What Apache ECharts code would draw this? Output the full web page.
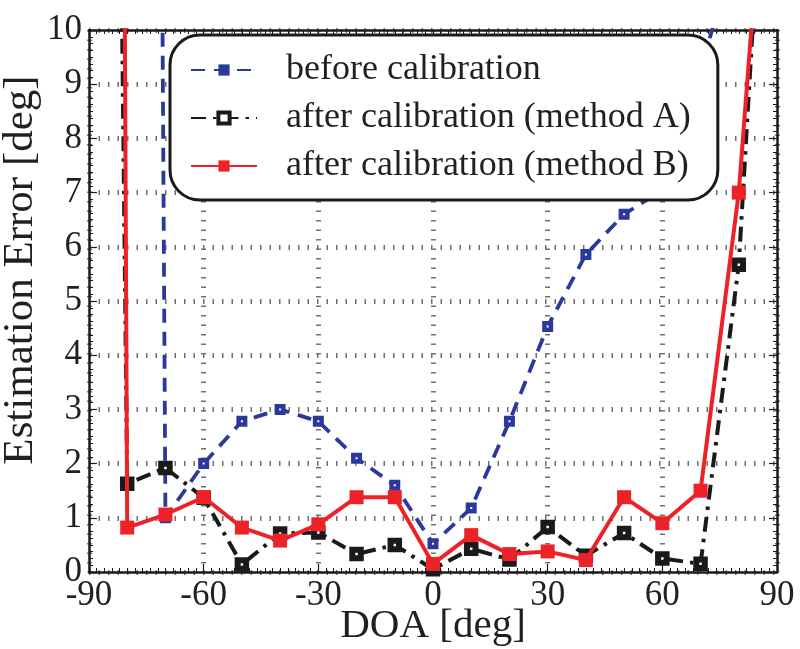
<!DOCTYPE html>
<html>
<head>
<meta charset="utf-8">
<script src="https://cdn.jsdelivr.net/npm/echarts@6/dist/echarts.min.js"></script>
<style>html,body{margin:0;padding:0;background:#fff;}#c{width:800px;height:649px;}</style>
</head>
<body>
<div id="c"></div>
<script>
const doa = [-90, -80, -70, -60, -50, -40, -30, -20, -10, 0, 10, 20, 30, 40, 50, 60, 70, 80, 90];
const beforeCal = [120, 120, 1.0, 2.0, 2.78, 3.0, 2.78, 2.1, 1.6, 0.52, 1.18, 2.78, 4.53, 5.86, 6.6, 7.05, 9.3, 11.6, 14];
const methodA = [65, 1.63, 1.92, 1.37, 0.14, 0.71, 0.73, 0.33, 0.5, 0.05, 0.43, 0.23, 0.83, 0.3, 0.72, 0.25, 0.15, 5.67, 17.7];
const methodB = [150, 0.82, 1.06, 1.38, 0.82, 0.58, 0.88, 1.38, 1.38, 0.15, 0.68, 0.33, 0.38, 0.22, 1.38, 0.9, 1.5, 7.0, 16.2];
const xTicks = { min: -90, max: 90, interval: 30 };
const yTicks = { min: 0, max: 10, interval: 1 };
const names = ['before calibration', 'after calibration (method A)', 'after calibration (method B)'];

const FONT = 'Liberation Serif';
const TXT = '#231f20';
const BLUE = '#2b3a9a';
const BLACK = '#1a1a1a';
const RED = '#ed2228';

const pairs = arr => doa.map((x, i) => [x, arr[i]]);
const gridLine = { show: true, lineStyle: { color: '#707070', width: 5, type: [1.5, 8] } };
const axLine = { show: true, onZero: false, lineStyle: { color: BLACK, width: 2.5 } };
const tick = { show: true, inside: true, length: 8, lineStyle: { color: BLACK, width: 1.2 } };

const chart = echarts.init(document.getElementById('c'), null, { renderer: 'canvas' });
chart.setOption({
  animation: false,
  backgroundColor: '#fff',
  grid: { left: 89, right: 23, top: 30, bottom: 77, containLabel: false, outerBoundsMode: 'none' },
  xAxis: [
    {
      type: 'value', position: 'bottom', min: xTicks.min, max: xTicks.max, interval: xTicks.interval,
      axisLine: axLine, axisTick: tick,
      minorTick: { show: true, splitNumber: 15, length: 4, lineStyle: { color: BLACK, width: 1 } },
      splitLine: gridLine,
      axisLabel: { color: TXT, fontFamily: FONT, fontSize: 35, margin: 6 },
      name: 'DOA [deg]', nameLocation: 'middle', nameGap: 34, nameMoveOverlap: false,
      nameTextStyle: { color: TXT, fontFamily: FONT, fontSize: 41 }
    },
    {
      type: 'value', position: 'top', min: xTicks.min, max: xTicks.max, interval: xTicks.interval,
      axisLine: axLine, axisTick: tick,
      minorTick: { show: true, splitNumber: 15, length: 4, lineStyle: { color: BLACK, width: 1 } },
      splitLine: { show: false }, axisLabel: { show: false }
    }
  ],
  yAxis: [
    {
      type: 'value', position: 'left', min: yTicks.min, max: yTicks.max, interval: yTicks.interval,
      axisLine: axLine, axisTick: tick,
      minorTick: { show: true, splitNumber: 8, length: 4, lineStyle: { color: BLACK, width: 1 } },
      splitLine: gridLine,
      axisLabel: { color: TXT, fontFamily: FONT, fontSize: 35, margin: 7 },
      name: 'Estimation Error [deg]', nameLocation: 'middle', nameGap: 47, nameMoveOverlap: false,
      nameTextStyle: { color: TXT, fontFamily: FONT, fontSize: 43, padding: [0, 0, 0, 62] }
    },
    {
      type: 'value', position: 'right', min: yTicks.min, max: yTicks.max, interval: yTicks.interval,
      axisLine: axLine, axisTick: tick,
      minorTick: { show: true, splitNumber: 8, length: 4, lineStyle: { color: BLACK, width: 1 } },
      splitLine: { show: false }, axisLabel: { show: false }
    }
  ],
  legend: {
    orient: 'vertical', left: 170, top: 35,
    data: [
      { name: names[0], itemStyle: { color: BLUE, borderWidth: 0 } },
      { name: names[1], itemStyle: { color: '#fff', borderColor: BLACK, borderWidth: 4 } },
      { name: names[2], itemStyle: { color: RED, borderWidth: 0 } }
    ],
    itemWidth: 66, itemHeight: 14, itemGap: 12,
    padding: [17, 27, 16, 20],
    backgroundColor: '#fff', borderColor: BLACK, borderWidth: 3, borderRadius: 30,
    textStyle: { color: TXT, fontFamily: FONT, fontSize: 36, padding: [0, 0, 0, 24] }
  },
  series: [
    {
      name: names[0], type: 'line', data: pairs(beforeCal), clip: true, z: 2,
      symbol: 'rect', symbolSize: 6.5,
      lineStyle: { color: BLUE, width: 3.8, type: [14, 9] },
      itemStyle: { color: '#fff', borderColor: BLUE, borderWidth: 4.5 }
    },
    {
      name: names[1], type: 'line', data: pairs(methodA), clip: true, z: 3,
      symbol: 'rect', symbolSize: 8.5,
      lineStyle: { color: BLACK, width: 4, type: [15, 7, 3.5, 7] },
      itemStyle: { color: '#fff', borderColor: BLACK, borderWidth: 6 }
    },
    {
      name: names[2], type: 'line', data: pairs(methodB), clip: true, z: 4,
      symbol: 'rect', symbolSize: 14,
      lineStyle: { color: RED, width: 4 },
      itemStyle: { color: RED }
    }
  ]
});
</script>
</body>
</html>
